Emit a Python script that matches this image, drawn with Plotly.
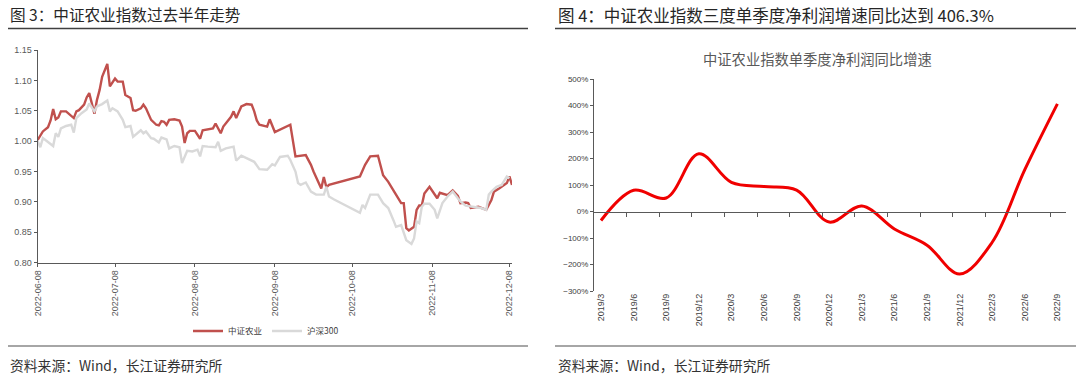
import plotly.graph_objects as go

W, H = 1080, 381

# ---------------- Left chart data ----------------
agri_dates = ["2022-06-08","2022-06-10","2022-06-12","2022-06-13","2022-06-14","2022-06-15","2022-06-16","2022-06-17",
 "2022-06-19","2022-06-20","2022-06-22","2022-06-23","2022-06-24","2022-06-26","2022-06-27","2022-06-28","2022-06-30",
 "2022-07-01","2022-07-02","2022-07-03","2022-07-05","2022-07-06","2022-07-08","2022-07-09","2022-07-11","2022-07-12",
 "2022-07-13","2022-07-14","2022-07-15","2022-07-16","2022-07-18","2022-07-19","2022-07-20","2022-07-22","2022-07-24",
 "2022-07-25","2022-07-26","2022-07-27","2022-07-28","2022-07-29","2022-07-31","2022-08-02","2022-08-03","2022-08-04",
 "2022-08-05","2022-08-06","2022-08-08","2022-08-09","2022-08-10","2022-08-11","2022-08-13","2022-08-15","2022-08-16",
 "2022-08-17","2022-08-18","2022-08-19","2022-08-22","2022-08-23","2022-08-24","2022-08-26","2022-08-28","2022-08-30",
 "2022-08-31","2022-09-01","2022-09-02","2022-09-05","2022-09-06","2022-09-08","2022-09-11","2022-09-14","2022-09-16",
 "2022-09-20","2022-09-22","2022-09-23","2022-09-26","2022-09-27","2022-09-28","2022-09-29","2022-10-11","2022-10-13",
 "2022-10-15","2022-10-18","2022-10-20","2022-10-22","2022-10-25","2022-10-27","2022-10-28","2022-10-29","2022-10-30",
 "2022-11-01","2022-11-02","2022-11-03","2022-11-04","2022-11-05","2022-11-07","2022-11-09","2022-11-10","2022-11-11",
 "2022-11-14","2022-11-16","2022-11-18","2022-11-19","2022-11-21","2022-11-22","2022-11-23","2022-11-26","2022-11-29",
 "2022-12-01","2022-12-02","2022-12-04","2022-12-07","2022-12-08","2022-12-09"]
agri_values = [1.002,1.016,1.023,1.034,1.053,1.036,1.039,1.049,
 1.049,1.045,1.038,1.049,1.051,1.060,1.072,1.079,1.045,
 1.068,1.084,1.106,1.127,1.090,1.103,1.098,1.098,1.076,
 1.073,1.071,1.051,1.050,1.054,1.060,1.054,1.035,1.027,
 1.026,1.033,1.032,1.027,1.035,1.036,1.034,1.024,0.997,
 1.013,1.017,1.017,1.010,1.004,1.018,1.020,1.021,1.029,
 1.022,1.013,1.024,1.040,1.049,1.038,1.057,1.061,1.060,
 1.049,1.034,1.027,1.024,1.036,1.015,1.021,1.027,0.975,
 0.977,0.961,0.950,0.922,0.941,0.924,0.928,0.942,0.961,
 0.975,0.976,0.944,0.933,0.912,0.898,0.898,0.857,0.853,
 0.859,0.887,0.894,0.894,0.914,0.925,0.913,0.906,0.915,
 0.911,0.919,0.910,0.898,0.899,0.898,0.890,0.892,0.887,
 0.903,0.917,0.922,0.931,0.942,0.928]

hs300_dates = ["2022-06-08","2022-06-09","2022-06-10","2022-06-11","2022-06-14","2022-06-15","2022-06-16","2022-06-17",
 "2022-06-19","2022-06-21","2022-06-22","2022-06-23","2022-06-25","2022-06-27","2022-06-28","2022-06-30","2022-07-01",
 "2022-07-03","2022-07-05","2022-07-06","2022-07-07","2022-07-09","2022-07-11","2022-07-12","2022-07-14","2022-07-15",
 "2022-07-17","2022-07-18","2022-07-19","2022-07-20","2022-07-22","2022-07-23","2022-07-25","2022-07-26","2022-07-28",
 "2022-07-29","2022-07-31","2022-08-02","2022-08-03","2022-08-05","2022-08-07","2022-08-09","2022-08-10","2022-08-11",
 "2022-08-13","2022-08-16","2022-08-17","2022-08-18","2022-08-20","2022-08-23","2022-08-24","2022-08-26","2022-08-28",
 "2022-08-31","2022-09-02","2022-09-05","2022-09-07","2022-09-08","2022-09-10","2022-09-13","2022-09-14","2022-09-16",
 "2022-09-17","2022-09-18","2022-09-20","2022-09-22","2022-09-24","2022-09-27","2022-09-28","2022-09-29","2022-10-01",
 "2022-10-11","2022-10-12","2022-10-13","2022-10-15","2022-10-18","2022-10-20","2022-10-22","2022-10-24","2022-10-25",
 "2022-10-27","2022-10-28","2022-10-29","2022-10-31","2022-11-01","2022-11-02","2022-11-03","2022-11-04","2022-11-05",
 "2022-11-07","2022-11-09","2022-11-10","2022-11-12","2022-11-14","2022-11-16","2022-11-18","2022-11-19","2022-11-21",
 "2022-11-24","2022-11-27","2022-11-29","2022-11-30","2022-12-01","2022-12-03","2022-12-05","2022-12-07","2022-12-08"]
hs300_values = [1.000,0.990,1.005,1.002,0.992,1.013,1.007,1.021,
 1.025,1.027,1.014,1.038,1.046,1.052,1.062,1.049,1.057,
 1.061,1.067,1.049,1.054,1.049,1.035,1.023,1.025,1.007,
 1.014,1.018,1.013,1.016,1.005,1.004,0.998,1.006,1.003,
 0.988,0.992,0.990,0.964,0.984,0.983,0.986,0.975,0.992,
 0.991,0.990,0.999,0.984,0.988,0.991,0.968,0.976,0.972,
 0.966,0.954,0.953,0.962,0.960,0.974,0.976,0.969,0.950,
 0.931,0.928,0.932,0.917,0.912,0.912,0.925,0.909,0.904,
 0.882,0.895,0.890,0.912,0.912,0.898,0.890,0.870,0.859,
 0.862,0.851,0.837,0.831,0.840,0.868,0.865,0.892,0.897,
 0.897,0.887,0.873,0.898,0.909,0.917,0.906,0.901,0.894,
 0.892,0.890,0.887,0.912,0.917,0.925,0.928,0.942,0.939]

left_ticks = ["2022-06-08","2022-07-08","2022-08-08","2022-09-08","2022-10-08","2022-11-08","2022-12-08"]

# ---------------- Right chart data ----------------
quarters = ["2019/3","2019/6","2019/9","2019/12","2020/3","2020/6","2020/9","2020/12",
            "2021/3","2021/6","2021/9","2021/12","2022/3","2022/6","2022/9"]
growth_pct = [-34, 80, 51, 218, 110, 94, 81, -40, 21, -66, -127, -236, -116, 158, 406.3]

# ---------------- helpers ----------------
def fx(px):
    return px / W

def fy(py):
    return 1 - py / H

SANS = "Liberation Sans, Arial, sans-serif"
CJK = "Noto Sans CJK SC, sans-serif"
TICKFONT = dict(family=SANS, size=9, color="#595959")

# Left domains (pixels)
L_x0, L_x1 = 37.7, 512
L_ytop, L_ybot = 50, 262.7
# Right domains (pixels)
R_x0, R_x1 = 594, 1066
R_ytop, R_ybot = 79, 291
R_ymin, R_ymax = -300, 500

fig = go.Figure()

fig.add_trace(go.Scatter(x=agri_dates, y=agri_values, name="中证农业", mode="lines",
                         line=dict(color="#C0504D", width=2.4), xaxis="x", yaxis="y"))
fig.add_trace(go.Scatter(x=hs300_dates, y=hs300_values, name="沪深300", mode="lines",
                         line=dict(color="#D9D9D9", width=2.4), xaxis="x", yaxis="y"))

fig.add_trace(go.Scatter(x=list(range(len(quarters))), y=growth_pct, mode="lines",
                         line=dict(color="#F00000", width=3, shape="spline", smoothing=1.0),
                         showlegend=False, xaxis="x2", yaxis="y2"))
# empty trace so that the tick axis drawn on the zero line exists
fig.add_trace(go.Scatter(x=[], y=[], showlegend=False, xaxis="x3", yaxis="y2", hoverinfo="skip"))

step = 32.6  # px per quarter
r_lo = -(601 - R_x0) / step
r_hi = (R_x1 - 601) / step
zero_pos = fy(R_ybot) + (0 - R_ymin) / (R_ymax - R_ymin) * (fy(R_ytop) - fy(R_ybot))

fig.update_layout(
    width=W, height=H, margin=dict(l=0, r=0, t=0, b=0, autoexpand=False),
    paper_bgcolor="white", plot_bgcolor="white",
    showlegend=True,
    legend=dict(orientation="h", x=fx(266), y=fy(331), xanchor="center", yanchor="middle",
                font=dict(family=CJK, size=8.5, color="#404040"), itemwidth=30,
                bgcolor="rgba(0,0,0,0)"),
    xaxis=dict(domain=[fx(L_x0), fx(L_x1)], anchor="y", type="date", automargin=False,
               range=["2022-06-08", "2022-12-09"], tickvals=left_ticks, tickformat="%Y-%m-%d",
               tickangle=-90, ticks="outside", ticklen=3, tickcolor="#595959",
               showline=True, linecolor="#595959", linewidth=1, showgrid=False, zeroline=False,
               tickfont=TICKFONT),
    yaxis=dict(domain=[fy(L_ybot), fy(L_ytop)], anchor="x", range=[0.80, 1.15], dtick=0.05,
               automargin=False,
               tickformat=".2f", ticks="outside", ticklen=3, tickcolor="#595959",
               showline=True, linecolor="#595959", linewidth=1, showgrid=False, zeroline=False,
               tickfont=TICKFONT),
    xaxis2=dict(domain=[fx(R_x0), fx(R_x1)], anchor="y2", range=[r_lo, r_hi], automargin=False,
                tickvals=list(range(len(quarters))), ticktext=quarters, tickangle=-90,
                ticks="", showline=False, showgrid=False, zeroline=False,
                tickfont=dict(family=SANS, size=9, color="#404040")),
    xaxis3=dict(domain=[fx(R_x0), fx(R_x1)], anchor="free", position=zero_pos, overlaying="x2",
                automargin=False,
                range=[0, (R_x1 - R_x0) / step], tickvals=list(range(1, len(quarters))),
                showticklabels=False, ticks="outside", ticklen=4, tickcolor="#595959",
                showline=True, linecolor="#595959", linewidth=1, showgrid=False, zeroline=False),
    yaxis2=dict(domain=[fy(R_ybot), fy(R_ytop)], anchor="x2", range=[R_ymin, R_ymax], dtick=100,
                automargin=False,
                ticksuffix="%", ticks="outside", ticklen=3, tickcolor="#595959",
                showline=True, linecolor="#595959", linewidth=1, showgrid=False, zeroline=False,
                tickfont=dict(family=SANS, size=8, color="#404040")),
)

annotations = [
    dict(text="图 3：中证农业指数过去半年走势", x=fx(8), y=fy(14), xanchor="left", yanchor="middle",
         font=dict(family=CJK, size=15.6, color="#262626")),
    dict(text="图 4：中证农业指数三度单季度净利润增速同比达到 406.3%", x=fx(556), y=fy(14.5),
         xanchor="left", yanchor="middle", font=dict(family=CJK, size=16.5, color="#262626")),
    dict(text="中证农业指数单季度净利润同比增速", x=fx(817), y=fy(58), xanchor="center", yanchor="middle",
         font=dict(family=CJK, size=14.3, color="#595959")),
    dict(text="资料来源：Wind，长江证券研究所", x=fx(8), y=fy(365), xanchor="left", yanchor="middle",
         font=dict(family=CJK, size=13.8, color="#333333")),
    dict(text="资料来源：Wind，长江证券研究所", x=fx(556), y=fy(365), xanchor="left", yanchor="middle",
         font=dict(family=CJK, size=13.8, color="#333333")),
]
for a in annotations:
    a.update(xref="paper", yref="paper", showarrow=False)
fig.update_layout(annotations=annotations)

shapes = [
    dict(type="line", x0=fx(8), x1=fx(528), y0=fy(28.5), y1=fy(28.5), line=dict(color="#404040", width=1.3)),
    dict(type="line", x0=fx(555), x1=fx(1076), y0=fy(28.5), y1=fy(28.5), line=dict(color="#404040", width=1.3)),
    dict(type="line", x0=fx(8), x1=fx(528), y0=fy(346), y1=fy(346), line=dict(color="#A6A6A6", width=2)),
    dict(type="line", x0=fx(555), x1=fx(1076), y0=fy(346), y1=fy(346), line=dict(color="#A6A6A6", width=2)),
]
for s in shapes:
    s.update(xref="paper", yref="paper")
fig.update_layout(shapes=shapes)

fig.write_html("out.html", config={"displayModeBar": False},
               post_script="document.body.style.margin='0px';document.body.style.overflow='hidden';")
